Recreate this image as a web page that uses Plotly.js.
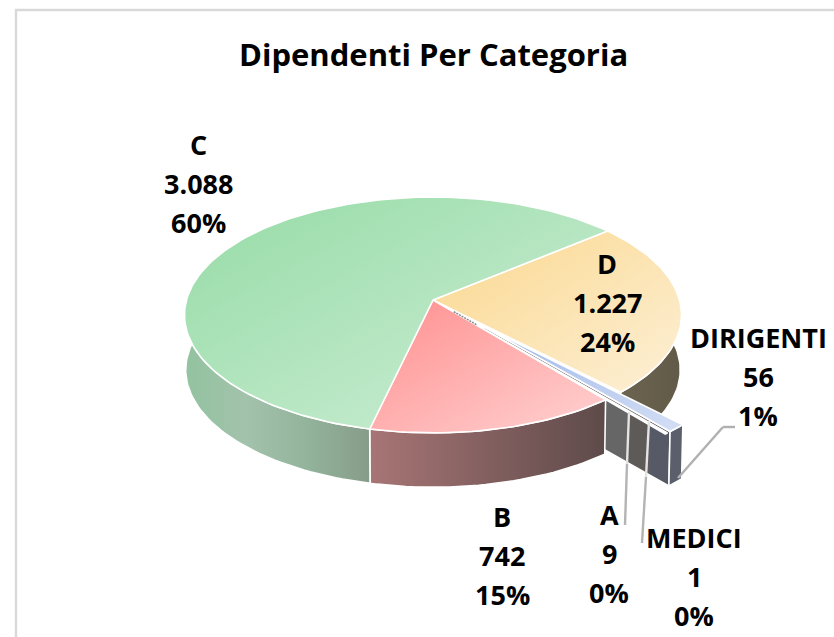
<!DOCTYPE html>
<html><head><meta charset="utf-8">
<script src="https://cdn.plot.ly/plotly-3.0.1.min.js"></script>
<style>html,body{margin:0;padding:0;background:#fff}#c{width:834px;height:637px}</style></head>
<body><div id="c"></div>
<script>
const categories = ["D","DIRIGENTI","MEDICI","A","B","C"];
const values = [1227,56,1,9,742,3088];
const valueLabels = ["1.227","56","1","9","742","3.088"];
const percentLabels = ["24%","1%","0%","0%","15%","60%"];
const chartTitle = "Dipendenti Per Categoria";

// projection of the tilted disc
const FIRST_ANGLE = 50, CX = 433, CY = 300, A = 246.5, B = 116, K = 0.127, DEPTH = 55, BOTTOM_SCALE = 0.995, EXPLODE = 0.3;
const exploded = {DIRIGENTI:true, MEDICI:true, A:true};
const rad = d => d*Math.PI/180;
function proj(X,Yv,bottom){
  const w = 1-K*Yv, s = bottom?BOTTOM_SCALE:1;
  return [CX + s*A*X/w, CY + (bottom?DEPTH:0) + s*B*Yv/w];
}
const total = values.reduce((a,b)=>a+b,0);
let acc = FIRST_ANGLE;
const slices = categories.map((c,i)=>{
  const a0 = acc, a1 = acc + values[i]/total*360; acc = a1;
  const mid = (a0+a1)/2, e = exploded[c]?EXPLODE:0;
  return {name:c,a0,a1,ox:e*Math.sin(rad(mid)),oy:-e*Math.cos(rad(mid))};
});
const S = Object.fromEntries(slices.map(s=>[s.name,s]));
function rimPt(s,t,r,bottom){ return proj(s.ox+r*Math.sin(rad(t)), s.oy-r*Math.cos(rad(t)), bottom); }
function arc(s,t0,t1,bottom){
  const n = Math.max(2,Math.ceil(Math.abs(t1-t0)/1.5)), out=[];
  for(let i=0;i<=n;i++) out.push(rimPt(s,t0+(t1-t0)*i/n,1,bottom));
  return out;
}
function poly(points,colors,lw){
  const closed = points.concat([points[0]]);
  const t = {x:closed.map(p=>p[0]),y:closed.map(p=>p[1]),mode:'lines',fill:'toself',
    line:{color:'#ffffff',width:lw===undefined?1.6:lw},hoverinfo:'skip',showlegend:false};
  t.fillgradient={type:'horizontal',colorscale:Array.isArray(colors[0])?colors:colors.map((c,i)=>[i/(colors.length-1),c])};
  return t;
}
const topFace = (s,colors,diag)=>{ const t=poly([rimPt(s,0,0,false)].concat(arc(s,s.a0,s.a1,false)),colors); t.diag=diag; return t; };
const sideFace = (s,t0,t1,colors)=>poly(arc(s,t0,t1,false).concat(arc(s,t1,t0,true)),colors);
const wall = (s,t,colors)=>poly([rimPt(s,t,0,false),rimPt(s,t,1,false),rimPt(s,t,1,true),rimPt(s,t,0,true)],colors);

const wallColors = [[0,'#666666'],[0.77,'#666666'],[0.775,'#5e5a58'],[0.89,'#5e5a58'],[0.895,'#565a66'],[1,'#565a66']];
const data = [
  sideFace(S.D,80,S.D.a1,['#6b6450','#625a48']),
  wall(S.DIRIGENTI,S.DIRIGENTI.a1,wallColors),
  sideFace(S.DIRIGENTI,S.DIRIGENTI.a0,S.DIRIGENTI.a1,['#5a5f6b','#5a5f6b']),
  sideFace(S.B,S.B.a0,S.B.a1,['#a87575','#5e4a4a']),
  sideFace(S.C,S.C.a0,285,['#92c3a0','#a3c2ab','#93b39b','#869c8a']),
  topFace(S.D,['#fdf0d6','#fad78e'],true),
  topFace(S.A,['#ffffff','#ffffff']),
  topFace(S.DIRIGENTI,['#d4dff5','#9fb6ea'],true),
  topFace(S.B,['#ffd2d2','#ff8f8f'],true),
  topFace(S.C,['#d0efd8','#96dba6'],true)
];
const diagIdx = data.map((t,i)=>t.diag?i:-1).filter(i=>i>=0);
data.forEach(t=>delete t.diag);
// thin sliver of the smallest slices, visible close to the centre
const sliverA = rimPt({ox:0,oy:0},S.A.a0,0.13), sliverB = rimPt({ox:0,oy:0},S.A.a0,0.27);
data.push({x:[sliverA[0],sliverB[0]],y:[sliverA[1],sliverB[1]],mode:'lines',line:{color:'#8a8a8a',width:1.5,dash:'2px,1px'},hoverinfo:'skip',showlegend:false});

const FONT = {family:'"Open Sans", sans-serif',size:27,color:'#000',weight:700};
const anchors = {C:[198,144],D:[607,263],DIRIGENTI:[758,337],B:[502,516],A:[609,514],MEDICI:[694,537]};
const LINE = 39;
const annotations = [];
categories.forEach((c,i)=>{
  [c,valueLabels[i],percentLabels[i]].forEach((txt,j)=>{
    annotations.push({x:anchors[c][0],y:anchors[c][1]+j*LINE,xref:'x',yref:'y',text:txt,showarrow:false,font:FONT,xanchor:'center',yanchor:'middle'});
  });
});
annotations.push({x:433,y:54,xref:'x',yref:'y',text:chartTitle,showarrow:false,font:Object.assign({},FONT,{size:31}),xanchor:'center',yanchor:'middle'});

const leader = (x0,y0,x1,y1,color)=>({type:'line',x0,y0,x1,y1,xref:'x',yref:'y',line:{color,width:2.4},layer:'above'});
const shapes = [
  {type:'rect',x0:16,y0:10,x1:860,y1:700,xref:'x',yref:'y',line:{color:'#d9d9d9',width:2.4},layer:'below'},
  leader(629,412,627,464,'#e4e4e4'),leader(627,464,625,525,'#b4b4b4'),
  leader(649,421,646,477,'#e4e4e4'),leader(646,477,642,543,'#b4b4b4'),
  leader(678,478,723,427,'#b0b0b0'),leader(723,427,735,427,'#b0b0b0')
];
const layout = {width:834,height:637,margin:{l:0,r:0,t:0,b:0},paper_bgcolor:'#fff',plot_bgcolor:'#fff',
  xaxis:{range:[0,834],visible:false,fixedrange:true},yaxis:{range:[637,0],visible:false,fixedrange:true},
  showlegend:false,annotations,shapes};
Plotly.newPlot('c',data,layout,{displayModeBar:false,staticPlot:true}).then(gd=>{
  const grads=[...document.querySelectorAll('#c linearGradient')];
  const uids=diagIdx.map(i=>gd._fullData[i].uid);
  grads.forEach(g=>{
    if(uids.some(u=>g.id.indexOf(u)>=0)){
      g.setAttribute('gradientUnits','objectBoundingBox');
      g.setAttribute('x1','0');g.setAttribute('y1','0');g.setAttribute('x2','1');g.setAttribute('y2','1');
    }
  });
});
</script></body></html>
